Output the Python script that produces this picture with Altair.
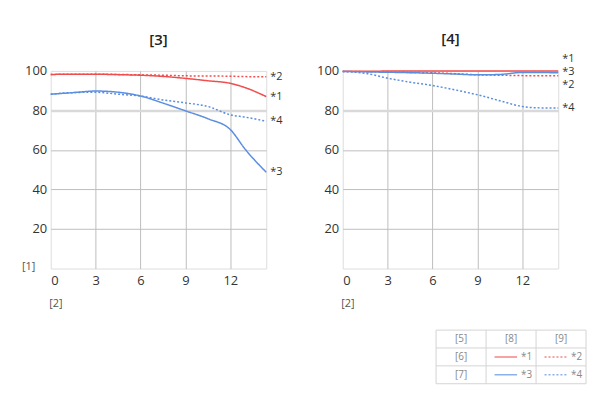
import altair as alt
import pandas as pd

# ---------------- data ----------------
x_pts = [0, 1.5, 3, 4.5, 6, 7.5, 9, 10.5, 12, 13, 14.4]
series_names = ["*1", "*2", "*3", "*4"]

left_s1 = [98.2, 98.3, 98.3, 98.1, 97.8, 97.2, 96.2, 95.0, 93.7, 91.5, 87.0]
left_s2 = [98.2, 98.3, 98.3, 98.2, 98.0, 97.8, 97.5, 97.4, 97.3, 97.1, 97.0]
left_s3 = [88.2, 89.0, 89.8, 89.2, 87.3, 83.7, 79.8, 75.8, 70.3, 60.3, 48.7]
left_s4 = [88.2, 89.0, 89.2, 88.2, 87.3, 85.3, 83.8, 82.0, 77.8, 76.6, 74.5]

right_s1 = [99.8, 99.8, 99.9, 99.9, 99.9, 99.9, 99.9, 99.9, 100.0, 100.0, 100.0]
right_s2 = [99.7, 99.6, 99.4, 99.2, 99.0, 98.6, 98.0, 97.8, 97.6, 97.5, 97.5]
right_s3 = [99.7, 99.5, 99.3, 99.1, 98.8, 98.4, 98.0, 98.2, 99.2, 99.2, 99.0]
right_s4 = [99.7, 98.8, 96.3, 94.3, 92.6, 90.4, 87.9, 84.9, 82.0, 81.3, 81.2]

# end-label heights (values on the y scale)
left_label_y = [87.0, 97.0, 48.7, 74.5]
right_label_y = [106.0, 93.0, 99.5, 81.0]

panel_titles = ["[3]", "[4]"]
y_title = "[1]"
x_title = "[2]"
x_ticks = [0, 3, 6, 9, 12]
y_ticks = [20, 40, 60, 80, 100]

table_header = ["[5]", "[8]", "[9]"]
table_rows = ["[6]", "[7]"]
table_cells = [["*1", "*2"], ["*3", "*4"]]

RED = "#f04e4e"
BLUE = "#5b8ee0"
FONT = "Open Sans"

color_scale = alt.Scale(domain=series_names, range=[RED, RED, BLUE, BLUE])
dash_scale = alt.Scale(domain=series_names, range=[[1, 0], [2, 2], [1, 0], [2, 2]])


def panel_df(series):
    rows = []
    for name, vals in zip(series_names, series):
        for x, v in zip(x_pts, vals):
            rows.append({"x": x, "v": v, "s": name})
    return pd.DataFrame(rows)


def make_panel(series, label_y, title, show_y_title, title_offset):
    df = panel_df(series)
    lab = pd.DataFrame({"x": [x_pts[-1]] * 4, "v": label_y, "s": series_names})

    x_axis = alt.Axis(
        values=x_ticks, title=x_title, grid=True,
        gridColor="#bdbdbd",
        gridOpacity={"condition": {"test": "datum.value === 0", "value": 0}, "value": 1},
        domain=False, ticks=False, labelFontSize=13, labelColor="#333",
        labelPadding=6, titleFontSize=11, titleFontWeight="normal", titleColor="#555",
        titleAlign="left", titleBaseline="bottom", titleX=-2, titleY=40,
        labelFont=FONT, titleFont=FONT,
    )
    y_axis_kwargs = dict(
        values=y_ticks, grid=True,
        gridColor={"condition": {"test": "datum.value === 80", "value": "#d9d9d9"}, "value": "#bdbdbd"},
        gridWidth={"condition": {"test": "datum.value === 80", "value": 2.5}, "value": 1},
        gridOpacity={"condition": {"test": "datum.value === 100", "value": 0}, "value": 1},
        domain=False, ticks=False, labelFontSize=13, labelColor="#333", labelPadding=4,
        labelFont=FONT, titleFont=FONT,
    )
    if show_y_title:
        y_axis = alt.Axis(title=y_title, titleAngle=0, titleX=-16, titleY=202,
                          titleAlign="right", titleBaseline="bottom", titleFontSize=11,
                          titleFontWeight="normal", titleColor="#555", **y_axis_kwargs)
    else:
        y_axis = alt.Axis(title=None, **y_axis_kwargs)

    x_enc = alt.X("x:Q", scale=alt.Scale(domain=[0, 14.4], nice=False), axis=x_axis)
    y_enc = alt.Y("v:Q", scale=alt.Scale(domain=[0, 100], nice=False), axis=y_axis)

    lines = alt.Chart(df).mark_line(strokeWidth=1.5, interpolate="monotone", clip=False).encode(
        x=x_enc, y=y_enc,
        color=alt.Color("s:N", scale=color_scale, legend=None),
        strokeDash=alt.StrokeDash("s:N", scale=dash_scale, legend=None),
        detail="s:N",
    )
    labels = alt.Chart(lab).mark_text(align="left", baseline="middle", dx=4, fontSize=11,
                                      color="#333", font=FONT).encode(
        x="x:Q", y="v:Q", text="s:N"
    )
    return alt.layer(lines, labels).properties(
        width=217, height=199,
        title=alt.TitleParams(title, fontSize=15, fontWeight=600, font=FONT,
                              color="#222", offset=title_offset, frame="group", anchor="middle"),
    )


left = make_panel([left_s1, left_s2, left_s3, left_s4], left_label_y, panel_titles[0], True, 17)
right = make_panel([right_s1, right_s2, right_s3, right_s4], right_label_y, panel_titles[1], False, 6)

# ---------------- legend table ----------------
text_rows = []
for c, h in enumerate(table_header):
    text_rows.append({"cx": c + 0.5, "ry": 0.5, "t": h})
for r, h in enumerate(table_rows):
    text_rows.append({"cx": 0.5, "ry": r + 1.5, "t": h})
text_df = pd.DataFrame(text_rows)

name_rows = []
seg_rows = []
for r, row in enumerate(table_cells):
    for c, name in enumerate(row):
        name_rows.append({"cx": c + 1.70, "ry": r + 1.5, "t": name})
        seg_rows.append({"x1": c + 1.17, "x2": c + 1.62, "ry": r + 1.5, "s": name})
name_df = pd.DataFrame(name_rows)
seg_df = pd.DataFrame(seg_rows)

hl = pd.DataFrame({"a": [0, 0, 0, 0], "b": [3, 3, 3, 3], "p": [0, 1, 2, 3]})
vl = pd.DataFrame({"a": [0, 0, 0, 0], "b": [3, 3, 3, 3], "p": [0, 1, 2, 3]})

TW = 151
T_OFF = 388
tx = alt.Scale(domain=[0, 3], range=[T_OFF, T_OFF + TW])
ty = alt.Scale(domain=[0, 3], range=[0, 54])

hrules = alt.Chart(hl).mark_rule(color="#d4d4d4", strokeWidth=1).encode(
    x=alt.X("a:Q", scale=tx, axis=None), x2="b:Q", y=alt.Y("p:Q", scale=ty, axis=None))
vrules = alt.Chart(vl).mark_rule(color="#d4d4d4", strokeWidth=1).encode(
    x=alt.X("p:Q", scale=tx, axis=None), y=alt.Y("a:Q", scale=ty, axis=None), y2="b:Q")
segs = alt.Chart(seg_df).mark_rule(strokeWidth=1.5, opacity=0.7).encode(
    x=alt.X("x1:Q", scale=tx, axis=None), x2="x2:Q", y=alt.Y("ry:Q", scale=ty, axis=None),
    color=alt.Color("s:N", scale=color_scale, legend=None),
    strokeDash=alt.StrokeDash("s:N", scale=dash_scale, legend=None),
)
texts = alt.Chart(text_df).mark_text(fontSize=10, color="#888", font=FONT, baseline="middle").encode(
    x=alt.X("cx:Q", scale=tx, axis=None), y=alt.Y("ry:Q", scale=ty, axis=None), text="t:N")
names = alt.Chart(name_df).mark_text(fontSize=10, color="#888", font=FONT, baseline="middle",
                                     align="left").encode(
    x=alt.X("cx:Q", scale=tx, axis=None), y=alt.Y("ry:Q", scale=ty, axis=None), text="t:N")

table = alt.layer(hrules, vrules, segs, texts, names).properties(
    width=T_OFF + TW, height=54, view=alt.ViewBackground(fill=None, stroke=None))

chart = alt.vconcat(
    alt.hconcat(left, right, spacing=33),
    table,
    spacing=20,
).properties(
    padding={"left": 13, "top": 22, "right": 5, "bottom": 5}
).configure_view(fill="#f2f2f2", stroke=None).configure(font=FONT)

chart.save("out.html", embed_options={"renderer": "svg", "actions": False})
